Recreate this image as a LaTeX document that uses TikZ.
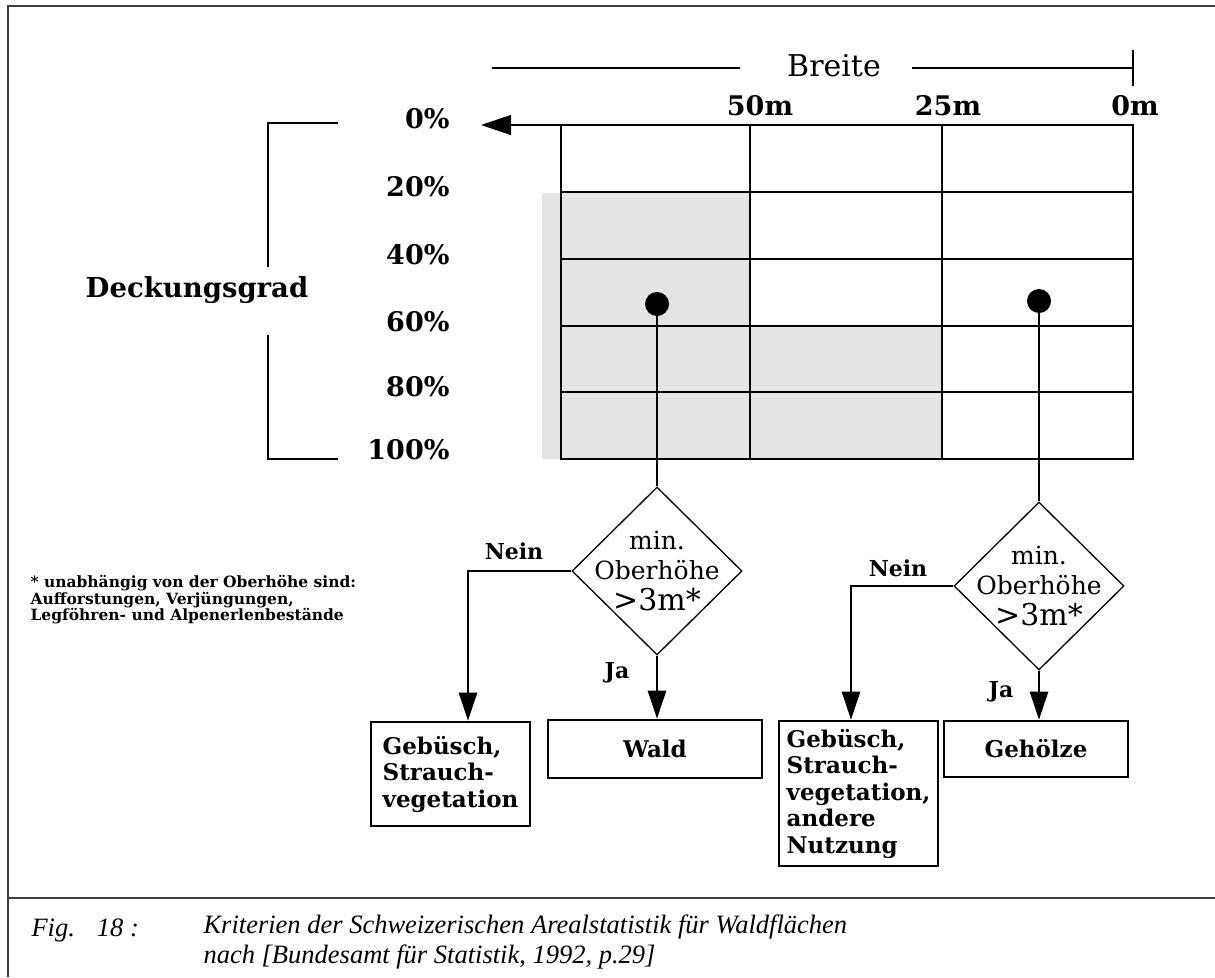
\documentclass[tikz,border=0pt]{standalone}
\usepackage{fontspec}
\setmainfont{DejaVu Serif}
\newfontfamily\capfont{Liberation Serif}
\usetikzlibrary{shapes.geometric,arrows.meta}
\definecolor{shadegray}{HTML}{E4E4E4}
\begin{document}
\begin{tikzpicture}[x=1pt,y=-1pt,
  gridline/.style={line width=2.6pt},
  thinline/.style={line width=1.3pt},
  framel/.style={line width=2pt,draw=black!75},
  conn/.style={line width=2.6pt},
  arr/.style={conn,-{Triangle[length=28pt,width=18pt]}},
  boxnode/.style={draw,line width=2.6pt,rectangle,inner sep=0pt,align=left,font=\bfseries\fontsize{23}{26.5}\selectfont},
  dia/.style={draw,diamond,line width=1.3pt,inner sep=0pt,minimum width=170pt,minimum height=168pt},
  dotnode/.style={circle,fill,inner sep=0pt,minimum size=24pt},
  lab/.style={font=\bfseries\fontsize{27}{30}\selectfont},
  yn/.style={font=\bfseries\fontsize{22}{26}\selectfont},
  diatext/.style={align=center,font=\fontsize{25}{30.5}\selectfont},
  captext/.style={font=\capfont\itshape\fontsize{26.5}{30}\selectfont}
]
\useasboundingbox (0,0) rectangle (1215,977);
% frame
\draw[framel] (1215,6) -- (8,6) -- (8,977);
\draw[framel] (8,898) -- (1215,898);
% Breite
\node[font=\fontsize{30}{32}\selectfont] (br) at (834,66) {Breite};
\draw[thinline] (492,68) -- (740,68);
\draw[thinline] (912,68) -- (1133,68);
\draw[thinline] (1133,50) -- (1133,86);
\node[lab] (m50) at (760,106) {50m};
\node[lab] (m25) at (948,106) {25m};
\node[lab] (m0) at (1135,106) {0m};
% Deckungsgrad
\node[font=\bfseries\fontsize{27.5}{30}\selectfont] (dg) at (197,290) {Deckungsgrad};
\draw[thinline] (338,123) -- (268,123) -- (268,267);
\draw[thinline] (268,335) -- (268,459) -- (338,459);
\node[lab,anchor=east] (p0) at (453,119) {0\%};
\node[lab,anchor=east] (p20) at (453,187) {20\%};
\node[lab,anchor=east] (p40) at (453,255) {40\%};
\node[lab,anchor=east] (p60) at (453,322) {60\%};
\node[lab,anchor=east] (p80) at (453,387) {80\%};
\node[lab,anchor=east] (p100) at (453,450) {100\%};
% shading
\fill[shadegray] (542,193) rectangle (750,459);
\fill[shadegray] (750,326) rectangle (942,459);
% grid
\draw[gridline] (561,125) rectangle (1133,459);
\draw[gridline] (750,125) -- (750,459);
\draw[gridline] (942,125) -- (942,459);
\foreach \yy in {192,259,326,392} \draw[gridline] (561,\yy) -- (1133,\yy);
\coordinate (gtl) at (561,125);
\coordinate (atip) at (481,125);
\draw[thinline,-{Triangle[length=30pt,width=20pt]}] (gtl) -- (atip);
% dots
\node[dotnode] (dot1) at (657,304) {};
\node[dotnode] (dot2) at (1039,301) {};
% diamonds
\node[dia,label={[diatext]center:{min.\\Oberhöhe\\{\fontsize{30}{30.5}\selectfont >3m*}}}] (d1) at (657,571) {};
\node[dia,label={[diatext]center:{min.\\Oberhöhe\\{\fontsize{30}{30.5}\selectfont >3m*}}}] (d2) at (1039,586) {};
% boxes
\node[boxnode,minimum width=159pt,minimum height=104pt] (g1) at (450.5,774) {Gebüsch,\\Strauch-\\vegetation};
\node[boxnode,minimum width=214pt,minimum height=58pt] (wald) at (655,749) {Wald};
\node[boxnode,minimum width=159pt,minimum height=145pt] (g2) at (858.5,793.5) {Gebüsch,\\Strauch-\\vegetation,\\andere\\Nutzung};
\node[boxnode,minimum width=184pt,minimum height=56pt] (gh) at (1036,749) {Gehölze};
% connectors
\draw[conn] (dot1) -- (d1.north);
\draw[conn] (dot2) -- (d2.north);
\coordinate (n1) at (468,571);
\coordinate (n2) at (851,586);
\draw[arr] (d1.west) -- (n1) -- (n1 |- g1.north);
\draw[arr] (d1.south) -- (d1.south |- wald.north);
\draw[arr] (d2.west) -- (n2) -- (n2 |- g2.north);
\draw[arr] (d2.south) -- (d2.south |- gh.north);
\node[yn] (nein1) at (514,551) {Nein};
\node[yn] (ja1) at (617,673) {Ja};
\node[yn] (nein2) at (898,568) {Nein};
\node[yn] (ja2) at (1001,692) {Ja};
% footnote
\node[anchor=west,align=left,font=\bfseries\fontsize{15.5}{16.5}\selectfont] (fn) at (27,600) {* unabhängig von der Oberhöhe sind:\\Aufforstungen, Verjüngungen,\\Legföhren- und Alpenerlenbestände};
% caption
\node[anchor=base west,captext] (fig) at (28,936) {Fig.\hspace{22pt}18 :};
\node[anchor=west,align=left,captext] (cap) at (200,942) {Kriterien der Schweizerischen Arealstatistik für Waldflächen\\nach [Bundesamt für Statistik, 1992, p.29]};
\end{tikzpicture}
\end{document}
